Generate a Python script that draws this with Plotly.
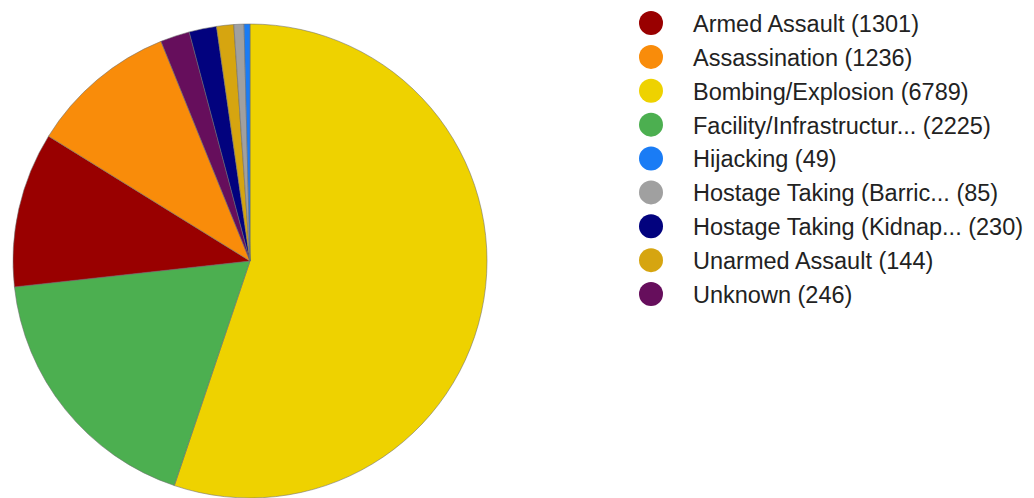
import plotly.graph_objects as go

# Attack types and incident counts
categories = [
    "Armed Assault",
    "Assassination",
    "Bombing/Explosion",
    "Facility/Infrastructure Attack",
    "Hijacking",
    "Hostage Taking (Barricade Incident)",
    "Hostage Taking (Kidnapping)",
    "Unarmed Assault",
    "Unknown",
]
counts = [1301, 1236, 6789, 2225, 49, 85, 230, 144, 246]

# Shortened names shown in the legend column
legend_names = [
    "Armed Assault",
    "Assassination",
    "Bombing/Explosion",
    "Facility/Infrastructur...",
    "Hijacking",
    "Hostage Taking (Barric...",
    "Hostage Taking (Kidnap...",
    "Unarmed Assault",
    "Unknown",
]

colors = [
    "#990000",
    "#F98C0A",
    "#EED200",
    "#4CAF50",
    "#1A7CF5",
    "#A0A0A0",
    "#02027E",
    "#D6A510",
    "#660E5C",
]

W, H = 1034, 498
FONT = "Arial, 'Liberation Sans', sans-serif"

# legend layout (pixels)
ROW0, ROW_STEP = 23.0, 33.875
LEG_X0 = 620.4
DOT_X, TEXT_X = 651.0, 693.0
TEXT_DROP = 3.0

fig = go.Figure()

fig.add_trace(go.Pie(
    labels=categories,
    values=counts,
    marker=dict(colors=colors, line=dict(color="rgba(110,110,110,0.55)", width=1)),
    sort=True,
    direction="clockwise",
    rotation=0,
    textinfo="none",
    hoverinfo="label+value+percent",
    showlegend=False,
    domain=dict(x=[13 / W, 487 / W], y=[0, 474 / H]),
))

idx = list(range(len(categories)))
legend_text = [f"{n} ({c})" for n, c in zip(legend_names, counts)]

# legend dots
fig.add_trace(go.Scatter(
    x=[DOT_X - LEG_X0] * len(idx),
    y=idx,
    mode="markers",
    marker=dict(size=24, color=colors, line=dict(width=0)),
    hoverinfo="skip",
    showlegend=False,
    cliponaxis=False,
    xaxis="x", yaxis="y",
))

# legend labels
fig.add_trace(go.Scatter(
    x=[TEXT_X - LEG_X0] * len(idx),
    y=idx,
    mode="text",
    text=legend_text,
    textposition="middle right",
    textfont=dict(family=FONT, size=23.5, color="#222222"),
    hoverinfo="skip",
    showlegend=False,
    cliponaxis=False,
    xaxis="x", yaxis="y2",
))

y_top = -ROW0 / ROW_STEP
y_bot = (H - ROW0) / ROW_STEP
shift = TEXT_DROP / ROW_STEP

hidden = dict(visible=False, showgrid=False, zeroline=False, fixedrange=True)
fig.update_layout(
    width=W,
    height=H,
    margin=dict(l=0, r=0, t=0, b=0),
    paper_bgcolor="white",
    plot_bgcolor="rgba(0,0,0,0)",
    font=dict(family=FONT, color="#222222"),
    xaxis=dict(domain=[LEG_X0 / W, 1], range=[0, W - LEG_X0], **hidden),
    yaxis=dict(domain=[0, 1], range=[y_bot, y_top], **hidden),
    yaxis2=dict(domain=[0, 1], range=[y_bot - shift, y_top - shift],
                overlaying="y", **hidden),
    showlegend=False,
)

fig.write_html("out.html")
